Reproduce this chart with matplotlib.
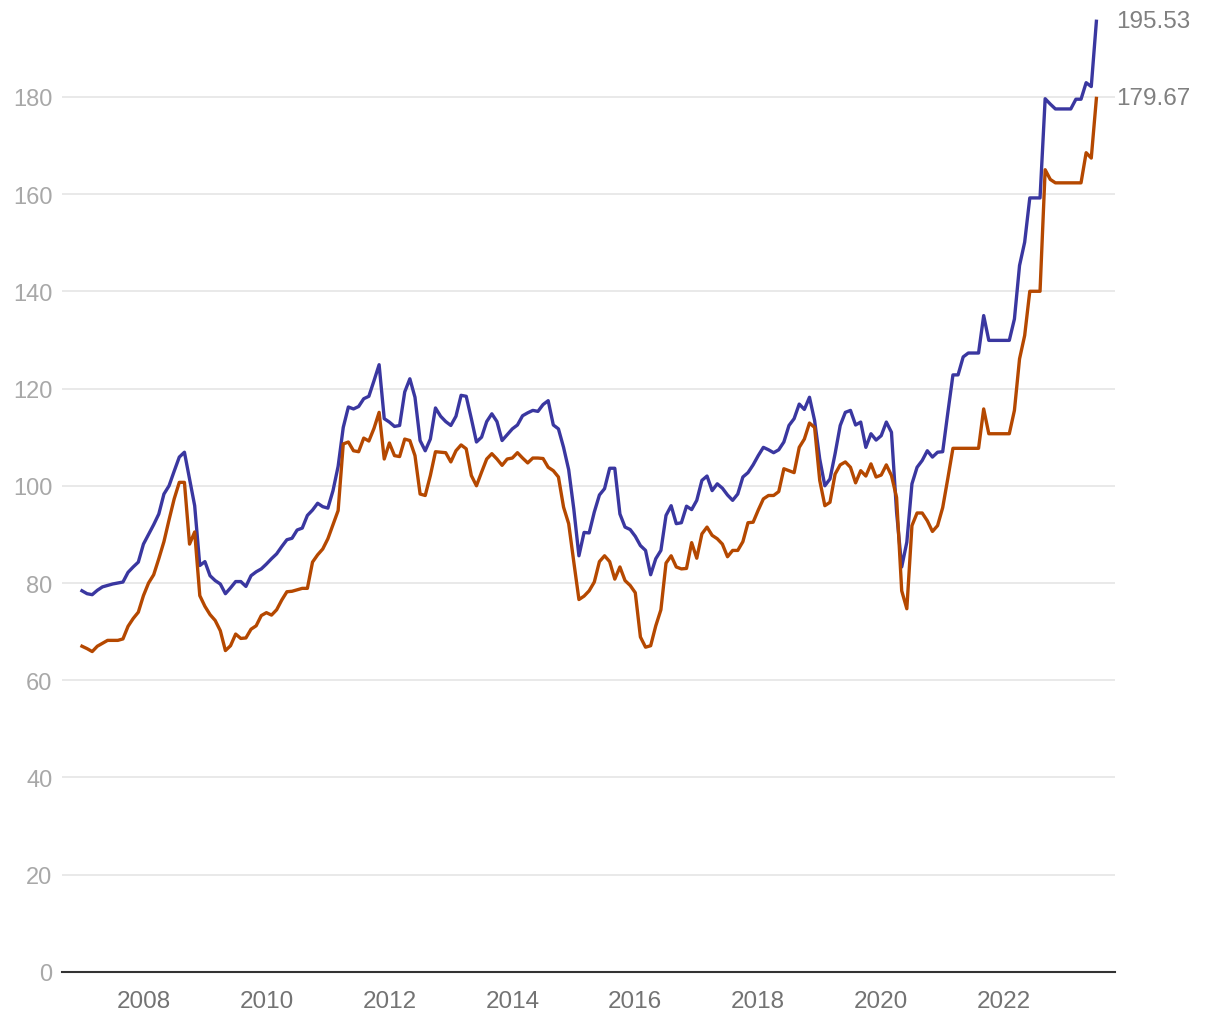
import numpy as np
import matplotlib
matplotlib.use("Agg")
import matplotlib.pyplot as plt

plt.rcParams['font.family'] = ['Liberation Sans', 'DejaVu Sans']

# monthly values, Jan 2007 - Jul 2023
start_year = 2007
blue_vals = [
    78.4, 77.8, 77.6, 78.5, 79.2, 79.5, 79.8, 80.0, 80.2, 82.2, 83.3, 84.3,
    88.0, 90.0, 92.0, 94.2, 98.3, 100.0, 103.0, 105.9, 106.9, 101.4, 95.9, 83.6,
    84.4, 81.5, 80.5, 79.8, 77.8, 79.0, 80.3, 80.3, 79.3, 81.5, 82.3, 82.9,
    83.9, 85.0, 86.0, 87.5, 88.9, 89.2, 90.9, 91.3, 93.9, 95.0, 96.4, 95.7,
    95.4, 99.0, 104.0, 112.0, 116.2, 115.8, 116.3, 117.9, 118.4, 121.6, 124.9, 113.8,
    113.1, 112.2, 112.4, 119.3, 122.0, 118.2, 109.3, 107.2, 109.6, 116.0, 114.3, 113.2,
    112.4, 114.3, 118.6, 118.4, 113.8, 109.0, 110.0, 113.2, 114.8, 113.2, 109.3, 110.5,
    111.7, 112.5, 114.4, 115.0, 115.5, 115.3, 116.7, 117.5, 112.5, 111.7, 107.9, 103.3,
    95.2, 85.6, 90.4, 90.3, 94.6, 98.1, 99.4, 103.6, 103.6, 94.2, 91.5, 91.0,
    89.6, 87.7, 86.7, 81.7, 85.0, 86.7, 93.9, 95.9, 92.2, 92.4, 95.8, 95.1,
    97.0, 101.1, 102.0, 99.0, 100.4, 99.5, 98.1, 97.0, 98.3, 101.8, 102.7, 104.3,
    106.2, 107.9, 107.4, 106.8, 107.4, 109.0, 112.4, 113.8, 116.8, 115.7, 118.2, 113.4,
    105.5, 100.0, 101.4, 106.6, 112.4, 115.1, 115.5, 112.5, 113.1, 107.9, 110.7, 109.4,
    110.3, 113.1, 111.0, 94.6, 83.3, 88.4, 100.4, 103.8, 105.2, 107.2, 105.9, 106.9,
    107.0, 115.0, 122.8, 122.8, 126.5, 127.3, 127.3, 127.3, 135.0, 129.9, 129.9, 129.9,
    129.9, 129.9, 134.3, 145.3, 150.1, 159.2, 159.2, 159.2, 179.6, 178.5, 177.5, 177.5,
    177.5, 177.5, 179.5, 179.5, 182.9, 182.1, 195.53,
]
orange_vals = [
    67.0, 66.5, 65.9, 67.0, 67.6, 68.2, 68.2, 68.2, 68.5, 71.1, 72.7, 74.0,
    77.4, 80.0, 81.7, 85.0, 88.5, 93.0, 97.3, 100.7, 100.7, 88.0, 90.5, 77.4,
    75.2, 73.5, 72.3, 70.2, 66.1, 67.1, 69.5, 68.6, 68.7, 70.5, 71.2, 73.3,
    73.9, 73.4, 74.5, 76.5, 78.2, 78.3, 78.6, 78.9, 78.9, 84.3, 85.8, 87.0,
    89.1, 92.0, 94.9, 108.6, 109.0, 107.2, 107.0, 109.8, 109.2, 111.8, 115.1, 105.5,
    108.8, 106.2, 106.0, 109.6, 109.3, 106.2, 98.3, 98.0, 102.1, 107.0, 106.9, 106.8,
    104.9, 107.2, 108.4, 107.6, 102.1, 100.0, 102.8, 105.5, 106.6, 105.5, 104.2, 105.5,
    105.7, 106.8, 105.7, 104.7, 105.7, 105.7, 105.6, 103.8, 103.1, 101.8, 95.6, 92.2,
    84.3, 76.6, 77.3, 78.4, 80.2, 84.4, 85.6, 84.4, 80.8, 83.3, 80.5, 79.5,
    78.0, 68.9, 66.8, 67.1, 71.2, 74.5, 84.1, 85.6, 83.3, 82.9, 83.0, 88.3,
    85.1, 90.1, 91.5, 89.8, 89.1, 88.0, 85.4, 86.7, 86.7, 88.5, 92.4, 92.5,
    95.0, 97.3, 98.0, 98.0, 98.8, 103.5, 103.1, 102.7, 107.9, 109.6, 112.9, 112.0,
    101.1, 95.9, 96.6, 102.4, 104.3, 104.9, 103.8, 100.6, 103.1, 102.0, 104.5, 101.8,
    102.2, 104.3, 102.1, 97.6, 78.4, 74.7, 91.8, 94.4, 94.4, 92.8, 90.6, 91.8,
    95.5, 101.5, 107.7, 107.7, 107.7, 107.7, 107.7, 107.7, 115.8, 110.7, 110.7, 110.7,
    110.7, 110.7, 115.5, 126.1, 130.9, 140.0, 140.0, 140.0, 165.0, 163.0, 162.3, 162.3,
    162.3, 162.3, 162.3, 162.3, 168.5, 167.4, 179.67,
]
year_ticks = [2008, 2010, 2012, 2014, 2016, 2018, 2020, 2022]
y_ticks = [0, 20, 40, 60, 80, 100, 120, 140, 160, 180]

blue_color = "#3a37a0"
orange_color = "#b54800"

x = start_year + np.arange(len(blue_vals)) / 12

fig = plt.figure(figsize=(12.2, 10.2), dpi=100)
ax = fig.add_axes([0.0508, 0.0461, 0.863, 0.9343])

ax.plot(x, blue_vals, color=blue_color, lw=2.4, solid_joinstyle='round', zorder=3)
ax.plot(x, orange_vals, color=orange_color, lw=2.4, solid_joinstyle='round', zorder=3)

# end labels
for vals in (blue_vals, orange_vals):
    ax.annotate(f"{vals[-1]:.2f}", xy=(x[-1], vals[-1]), xytext=(20, 0),
                textcoords='offset pixels', va='center', ha='left',
                fontsize=17.5, color='#808080', annotation_clip=False)

ax.set_xlim(2006.675, 2023.8)
ax.set_ylim(0, 196)
ax.set_xticks(year_ticks)
ax.set_xticklabels([str(y) for y in year_ticks])
ax.set_yticks(y_ticks)

ax.grid(axis='y', color='#e3e3e3', lw=1.1, zorder=0)
ax.set_axisbelow(True)
for side in ('top', 'right', 'left'):
    ax.spines[side].set_visible(False)
ax.spines['bottom'].set_color('#333333')
ax.spines['bottom'].set_linewidth(1.5)

ax.tick_params(axis='both', length=0)
ax.tick_params(axis='y', labelsize=17, labelcolor='#a8a8a8', pad=7)
ax.tick_params(axis='x', labelsize=17.5, labelcolor='#737373', pad=13)

fig.savefig("out.png", dpi=100)
